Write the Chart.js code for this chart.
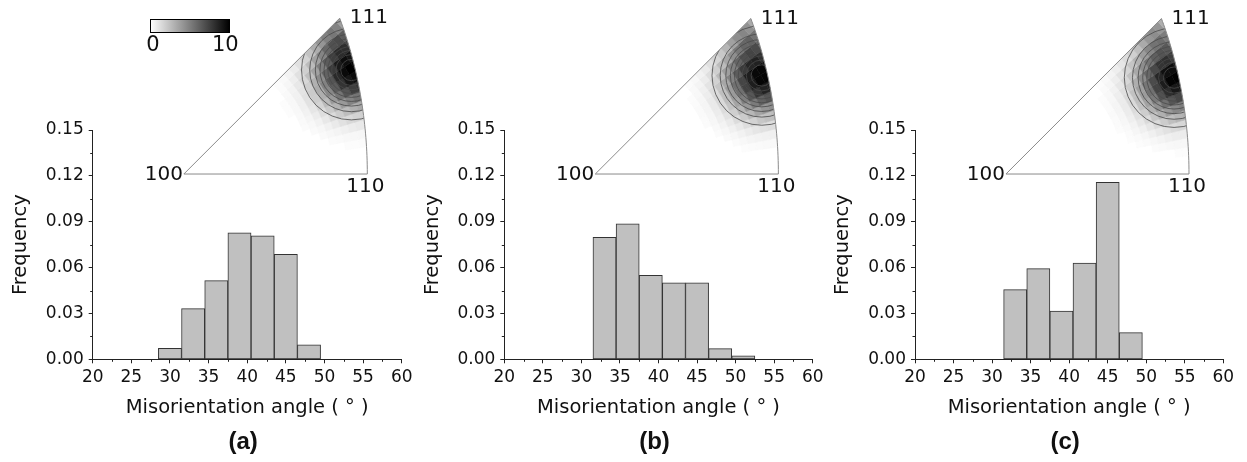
<!DOCTYPE html>
<html><head><meta charset="utf-8">
<script src="https://cdn.jsdelivr.net/npm/chart.js@4/dist/chart.umd.min.js"></script>
<style>
html,body{margin:0;padding:0;background:#fff;}
#wrap{position:relative;width:1247px;height:462px;overflow:hidden;background:#fff;}
canvas{position:absolute;top:0;}
</style></head><body>
<div id="wrap">
<canvas id="ca" width="440" height="462" style="left:0px"></canvas>
<canvas id="cb" width="440" height="462" style="left:412px"></canvas>
<canvas id="cc" width="425" height="462" style="left:822px"></canvas>
</div>
<script>
// ---------- data ----------
const xTicks = [20, 25, 30, 35, 40, 45, 50, 55, 60];
const yTicks = [0.00, 0.03, 0.06, 0.09, 0.12, 0.15];
const anglesA = [30, 33, 36, 39, 42, 45, 48];
const freqA   = [0.0072, 0.0331, 0.0515, 0.0828, 0.0807, 0.0687, 0.0094];
const anglesB = [33, 36, 39, 42, 45, 48, 51];
const freqB   = [0.0798, 0.0887, 0.0549, 0.0501, 0.0501, 0.0070, 0.0022];
const anglesC = [33, 36, 39, 42, 45, 48];
const freqC   = [0.0456, 0.0593, 0.0316, 0.0630, 0.1158, 0.0174];
const panelLabels = ['(a)', '(b)', '(c)'];
const xTitle = 'Misorientation angle ( ° )';
const yTitle = 'Frequency';
const ipfVertexLabels = ['100', '110', '111'];
const colorbarLabels = ['0', '10'];
const ipfPeakA = [0.699, 0.434];
const ipfPeakB = [0.696, 0.412];
const ipfPeakC = [0.703, 0.403];
const ipfShoulder = [0.64, 0.58];
const contourLevels = [1, 2, 3, 4, 5, 6, 7, 8, 9];
const densityMax = 10;

// ---------- layout (pixels / axis units, not data) ----------
const H = 462, plotTop = 130, plotBottom = 359.3;
const FONT = 'DejaVu Sans';
const ipfGeom = { x0: 31.8, y0: 0.1212, x1: 55.55, sigma: 0.097, shAmp: 3, shSigma: 0.06 };
const cbGeom = { xL: 27.42, xR: 37.68, yT: 0.2224, yB: 0.2139, yLab: 0.2053 };

const panels = [
  { id: 'ca', angles: anglesA, freq: freqA, label: panelLabels[0], peak: ipfPeakA, colorbar: true,  cl: 0,   pl: 92.7,  pr: 401.7 },
  { id: 'cb', angles: anglesB, freq: freqB, label: panelLabels[1], peak: ipfPeakB, colorbar: false, cl: 412, pl: 504.3, pr: 812.7 },
  { id: 'cc', angles: anglesC, freq: freqC, label: panelLabels[2], peak: ipfPeakC, colorbar: false, cl: 822, pl: 915,   pr: 1223.3 }
];

// equal-area projection with [100] as pole
function eaPoint(d) {
  const n = Math.hypot(d[0], d[1], d[2]);
  const c = d[0] / n;
  const r = Math.sqrt(2 * (1 - c));
  const phi = Math.atan2(d[2], d[1]);
  return [r * Math.cos(phi), r * Math.sin(phi)];
}
const R110 = eaPoint([1, 1, 0])[0];

function grayFor(f) {
  const t = Math.max(0, Math.min(1, f / densityMax));
  const g = Math.round(255 * (1 - Math.pow(t, 0.85)));
  return 'rgb(' + g + ',' + g + ',' + g + ')';
}

const minorTicks = {
  id: 'minorTicks',
  afterDraw(chart) {
    const ctx = chart.ctx, xs = chart.scales.x, ys = chart.scales.y;
    ctx.save();
    ctx.strokeStyle = '#222';
    ctx.lineWidth = 1;
    ctx.beginPath();
    for (let i = 0; i < xTicks.length - 1; i++) {
      const px = Math.round(xs.getPixelForValue((xTicks[i] + xTicks[i + 1]) / 2)) + 0.5;
      ctx.moveTo(px, ys.bottom); ctx.lineTo(px, ys.bottom + 2.5);
    }
    for (let i = 0; i < yTicks.length - 1; i++) {
      const py = Math.round(ys.getPixelForValue((yTicks[i] + yTicks[i + 1]) / 2)) + 0.5;
      ctx.moveTo(xs.left, py); ctx.lineTo(xs.left - 2.5, py);
    }
    ctx.stroke();
    ctx.restore();
  }
};

const ipfPlugin = {
  id: 'ipf',
  afterDraw(chart, args, opts) {
    const ctx = chart.ctx, xs = chart.scales.x, ys = chart.scales.y;
    const ox = xs.getPixelForValue(ipfGeom.x0);
    const oy = ys.getPixelForValue(ipfGeom.y0);
    const s = (xs.getPixelForValue(ipfGeom.x1) - ox) / R110;
    const P = (u, v) => [ox + u * s, oy - v * s];
    const arc = [];
    for (let i = 0; i <= 40; i++) arc.push(eaPoint([1, 1, i / 40]));
    const tri = () => {
      ctx.beginPath();
      let p = P(0, 0); ctx.moveTo(p[0], p[1]);
      arc.forEach(q => { const w = P(q[0], q[1]); ctx.lineTo(w[0], w[1]); });
      ctx.closePath();
    };
    ctx.save();
    tri();
    ctx.fillStyle = '#fff';
    ctx.fill();
    ctx.clip();
    const pk = opts.peak, sg = ipfGeom.sigma;
    const density = (u, v) => {
      const d2 = (u - pk[0]) ** 2 + (v - pk[1]) ** 2;
      const e2 = (u - ipfShoulder[0]) ** 2 + (v - ipfShoulder[1]) ** 2;
      return densityMax * Math.exp(-d2 / (2 * sg * sg)) +
             ipfGeom.shAmp * Math.exp(-e2 / (2 * ipfGeom.shSigma * ipfGeom.shSigma));
    };
    const nPhi = 16, nR = 30, rMax = 0.93;
    for (let i = 0; i < nPhi; i++) {
      for (let j = 0; j < nR; j++) {
        const p0 = (i / nPhi) * Math.PI / 4, p1 = ((i + 1) / nPhi) * Math.PI / 4;
        const r0 = (j / nR) * rMax, r1 = ((j + 1) / nR) * rMax;
        const pm = (p0 + p1) / 2, rm = (r0 + r1) / 2;
        const f = density(rm * Math.cos(pm), rm * Math.sin(pm));
        if (f < 0.05) continue;
        const c = grayFor(f);
        ctx.fillStyle = c; ctx.strokeStyle = c; ctx.lineWidth = 0.6;
        ctx.beginPath();
        const a = P(r0 * Math.cos(p0), r0 * Math.sin(p0));
        const b = P(r1 * Math.cos(p0), r1 * Math.sin(p0));
        const cc = P(r1 * Math.cos(p1), r1 * Math.sin(p1));
        const d = P(r0 * Math.cos(p1), r0 * Math.sin(p1));
        ctx.moveTo(a[0], a[1]); ctx.lineTo(b[0], b[1]); ctx.lineTo(cc[0], cc[1]); ctx.lineTo(d[0], d[1]);
        ctx.closePath(); ctx.fill(); ctx.stroke();
      }
    }
    const pc = P(pk[0], pk[1]);
    ctx.strokeStyle = '#4a4a4a';
    ctx.lineWidth = 0.8;
    contourLevels.forEach(L => {
      const rho = sg * Math.sqrt(2 * Math.log(densityMax / L)) * s;
      ctx.beginPath();
      ctx.arc(pc[0], pc[1], rho, 0, Math.PI * 2);
      ctx.stroke();
    });
    ctx.restore();
    ctx.save();
    tri();
    ctx.strokeStyle = '#8a8a8a';
    ctx.lineWidth = 1;
    ctx.stroke();
    ctx.fillStyle = '#111';
    ctx.font = '20px "' + FONT + '"';
    ctx.textBaseline = 'middle';
    const v100 = P(0, 0), v110 = P(R110, 0), a111 = arc[arc.length - 1], v111 = P(a111[0], a111[1]);
    ctx.textAlign = 'right';  ctx.fillText(ipfVertexLabels[0], v100[0] - 1, v100[1] + 1);
    ctx.textAlign = 'center'; ctx.fillText(ipfVertexLabels[1], v110[0] - 2, v110[1] + 13);
    ctx.textAlign = 'left';   ctx.fillText(ipfVertexLabels[2], v111[0] + 10, v111[1]);
    if (opts.colorbar) {
      const xl = xs.getPixelForValue(cbGeom.xL), xr = xs.getPixelForValue(cbGeom.xR);
      const yt = ys.getPixelForValue(cbGeom.yT), yb = ys.getPixelForValue(cbGeom.yB);
      const g = ctx.createLinearGradient(xl, 0, xr, 0);
      g.addColorStop(0, '#ffffff'); g.addColorStop(1, '#000000');
      ctx.fillStyle = g;
      ctx.fillRect(xl, yt, xr - xl, yb - yt);
      ctx.strokeStyle = '#000'; ctx.lineWidth = 1;
      ctx.strokeRect(Math.round(xl) + 0.5, Math.round(yt) + 0.5, Math.round(xr - xl), Math.round(yb - yt));
      ctx.fillStyle = '#111';
      ctx.textAlign = 'center';
      ctx.font = '21px "' + FONT + '"';
      const yl = ys.getPixelForValue(cbGeom.yLab);
      ctx.fillText(colorbarLabels[0], xl + 3, yl);
      ctx.fillText(colorbarLabels[1], xr - 4, yl);
    }
    ctx.font = 'bold 24px "Liberation Sans"';
    ctx.textAlign = 'center';
    ctx.fillStyle = '#111';
    ctx.fillText(opts.label, (xs.left + xs.right) / 2 - 4, 442);
    ctx.restore();
  }
};

panels.forEach(p => {
  const cv = document.getElementById(p.id);
  const yw = p.pl - p.cl;
  const padRight = cv.width - (p.pr - p.cl);
  const xh = H - plotBottom;
  new Chart(cv, {
    type: 'bar',
    data: {
      datasets: [{
        data: p.angles.map((a, i) => ({ x: a, y: p.freq[i] })),
        backgroundColor: '#c0c0c0',
        borderColor: '#333',
        borderWidth: 1,
        borderSkipped: false,
        barPercentage: 1,
        categoryPercentage: 1
      }]
    },
    options: {
      responsive: false,
      animation: false,
      devicePixelRatio: 1,
      layout: { padding: { top: plotTop, right: padRight, bottom: 0, left: 0 } },
      plugins: {
        legend: { display: false },
        tooltip: { enabled: false },
        ipf: { peak: p.peak, colorbar: p.colorbar, label: p.label }
      },
      scales: {
        x: {
          type: 'linear', min: 20, max: 60, offset: false,
          afterBuildTicks: sc => { sc.ticks = xTicks.map(v => ({ value: v })); },
          afterFit: sc => { sc.height = xh; },
          ticks: { font: { family: FONT, size: 17 }, color: '#111', padding: 4, maxRotation: 0, autoSkip: false,
                   callback: v => String(v) },
          grid: { drawOnChartArea: false, drawTicks: true, tickLength: 4, color: '#222', offset: false },
          border: { display: true, color: '#222', width: 1 },
          title: { display: true, text: xTitle, font: { family: FONT, size: 19.5 }, color: '#111',
                   padding: { top: 0, bottom: 42.6 } }
        },
        y: {
          type: 'linear', min: 0, max: 0.15,
          afterBuildTicks: sc => { sc.ticks = yTicks.map(v => ({ value: v })); },
          afterFit: sc => { sc.width = yw; },
          ticks: { font: { family: FONT, size: 17 }, color: '#111', padding: 5,
                   callback: v => Number(v).toFixed(2) },
          grid: { drawOnChartArea: false, drawTicks: true, tickLength: 4, color: '#222' },
          border: { display: true, color: '#222', width: 1 },
          title: { display: true, text: yTitle, font: { family: FONT, size: 19.5 }, color: '#111',
                   padding: { top: 9, bottom: 0 } }
        }
      }
    },
    plugins: [minorTicks, ipfPlugin]
  });
});
</script>
</body></html>
